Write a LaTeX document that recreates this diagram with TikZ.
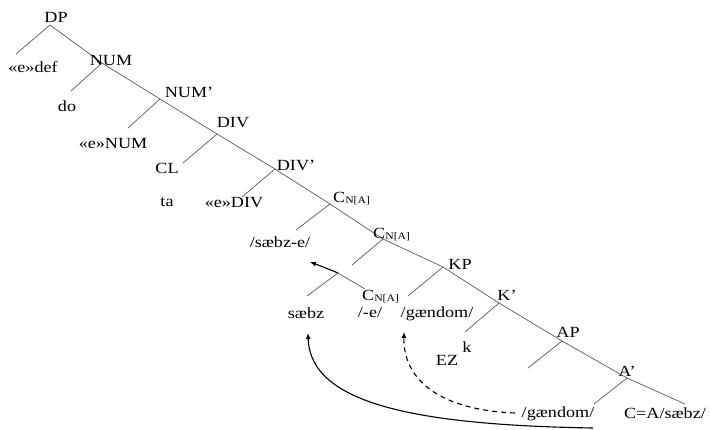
\documentclass[tikz,border=0pt]{standalone}
\usepackage{fontspec}
\setmainfont[FakeStretch=1.17]{Liberation Serif}
\usetikzlibrary{arrows.meta}
\newcommand\cna{C\raisebox{-1.5pt}{\fontsize{10}{10}\selectfont N[A]}}
\begin{document}
\begin{tikzpicture}[x=1pt,y=-1pt,
  lbl/.style={inner sep=0pt,anchor=base,font=\fontsize{15.5}{16}\selectfont},
  lblw/.style={lbl,anchor=base west},
  branch/.style={draw=black!65,line width=0.7pt},
  mv/.style={draw=black,line width=1.1pt,-{Latex[length=6pt,width=5pt]}},
  mvd/.style={mv,dash pattern=on 5pt off 4pt}]
\useasboundingbox (0,0) rectangle (711,429);
% branch points
\coordinate (bDP) at (50,25);
\coordinate (bNUM) at (102,63);
\coordinate (bNUMp) at (160,99);
\coordinate (bDIV) at (217,134);
\coordinate (bDIVp) at (275,169);
\coordinate (bC1) at (330,204);
\coordinate (bC2) at (383,239);
\coordinate (bKP) at (443,267);
\coordinate (bKp) at (499,303);
\coordinate (bAP) at (562,341);
\coordinate (bAp) at (627,378);
\coordinate (eAp) at (685,404);
\coordinate (bLow) at (338,273);
% leaf ends
\coordinate (lDP) at (16,54);
\coordinate (lNUM) at (71,91);
\coordinate (lNUMp) at (128,128);
\coordinate (lDIV) at (183,163);
\coordinate (lDIVp) at (242,197);
\coordinate (lC1) at (296,230);
\coordinate (lC2) at (352,265);
\coordinate (lKP) at (408,296);
\coordinate (lKp) at (465,332);
\coordinate (lAP) at (528,368);
\coordinate (lAp) at (594,404);
\coordinate (lLowL) at (307,296);
\coordinate (lLowR) at (365,289);
% spine
\draw[branch] (bDP) -- (bNUM) -- (bNUMp) -- (bDIV) -- (bDIVp) -- (bC1) -- (bC2) -- (bKP) -- (bKp) -- (bAP) -- (bAp) -- (eAp);
% left branches
\foreach \a/\b in {bDP/lDP,bNUM/lNUM,bNUMp/lNUMp,bDIV/lDIV,bDIVp/lDIVp,bC1/lC1,bC2/lC2,bKP/lKP,bKp/lKp,bAP/lAP,bAp/lAp,bLow/lLowL,bLow/lLowR}
  \draw[branch] (\a) -- (\b);
% labels
\node[lbl] (DP) at (56,22) {DP};
\node[lbl] (edef) at (33,72) {«e»def};
\node[lbl] (NUM) at (111,65) {NUM};
\node[lbl] (do) at (67,111) {do};
\node[lbl] (NUMp) at (189,97) {NUM’};
\node[lbl] (eNUM) at (113,148) {«e»NUM};
\node[lbl] (DIV) at (233,127) {DIV};
\node[lbl] (CL) at (167,173) {CL};
\node[lbl] (DIVp) at (296,170) {DIV’};
\node[lbl] (ta) at (167,206) {ta};
\node[lbl] (eDIV) at (234,207) {«e»DIV};
\node[lblw] (C1) at (333,202) {\cna};
\node[lbl] (sabze) at (280,247) {/sæbz-e/};
\node[lblw] (C2) at (373,238) {\cna};
\node[lbl] (KP) at (460,269) {KP};
\node[lbl] (Kp) at (507,300) {K’};
\node[lblw] (C3) at (362,300) {\cna};
\node[lbl] (sabz) at (306,318) {sæbz};
\node[lbl] (e) at (370,317) {/-e/};
\node[lbl] (gand1) at (437,317) {/gændom/};
\node[lbl] (EZ) at (447,365) {EZ};
\node[lbl] (k) at (467,352) {k};
\node[lbl] (AP) at (568,337) {AP};
\node[lbl] (Ap) at (627,376) {A’};
\node[lbl] (gand2) at (558,417) {/gændom/};
\node[lbl] (CA) at (665,418) {C=A/sæbz/};
% movement arrows
\coordinate (tS) at (308,333);
\coordinate (tG) at (404,332);
\coordinate (sS) at (593,428);
\coordinate (sG) at (515,413);
\coordinate (tU) at (310,262);
\draw[mv] (bLow) .. controls (326,268) and (318,265) .. (tU);
\draw[mv] (sS) .. controls (420,425) and (310,405) .. (tS);
\draw[mvd] (sG) .. controls (440,410) and (403,380) .. (tG);
\end{tikzpicture}
\end{document}
